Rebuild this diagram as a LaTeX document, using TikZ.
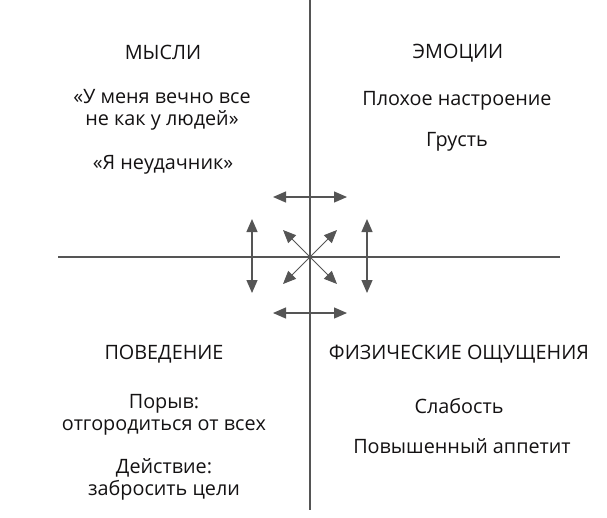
\documentclass[tikz,border=0pt]{standalone}
\usepackage{fontspec}
\setmainfont{Open Sans}
\usetikzlibrary{positioning,arrows.meta}
\definecolor{axisgray}{HTML}{555555}
\definecolor{textgray}{HTML}{141213}

\tikzset{
  quad/.style={align=center,text=textgray,font=\fontsize{19.8}{22}\selectfont,inner sep=0pt},
  twoway/.style={axisgray,line width=1.3pt,{Triangle[length=13pt,width=11pt]}-{Triangle[length=13pt,width=11pt]}},
  oneway/.style={axisgray,line width=1pt,-{Triangle[length=13pt,width=11pt]}}
}

\begin{document}
\begin{tikzpicture}[x=1pt,y=-1pt]
  \useasboundingbox (0,0) rectangle (607,517);

  % axes
  \coordinate (top) at (310,0);
  \coordinate (bottom) at (310,510);
  \coordinate (left) at (58,257);
  \coordinate (right) at (560,257);
  \coordinate (c) at (310,257);
  \draw[axisgray,line width=1.1pt] (top) -- (bottom);
  \draw[axisgray,line width=1.1pt] (left) -- (right);

  % thoughts
  \node[quad] (thoughts) at (163,52) {МЫСЛИ};
  \node[quad] (t1) at (162,110) {«У меня вечно все\\не как у людей»};
  \node[quad] (t2) at (163,165) {«Я неудачник»};

  % emotions
  \node[quad] (emotions) at (458,53) {ЭМОЦИИ};
  \node[quad] (e1) at (457,101) {Плохое настроение};
  \node[quad] (e2) at (457,142) {Грусть};

  % behaviour
  \node[quad] (behaviour) at (164,354) {ПОВЕДЕНИЕ};
  \node[quad] (b1) at (164,415) {Порыв:\\отгородиться от всех};
  \node[quad] (b2) at (164,479) {Действие:\\забросить цели};

  % body
  \node[quad] (body) at (459,354) {ФИЗИЧЕСКИЕ ОЩУЩЕНИЯ};
  \node[quad] (s1) at (459,406) {Слабость};
  \node[quad] (s2) at (462,446) {Повышенный аппетит};

  % arrows round the centre
  \coordinate (ta) at (273,197); \coordinate (tb) at (347,197);
  \coordinate (ba) at (273,313); \coordinate (bb) at (347,313);
  \coordinate (la) at (252,219); \coordinate (lb) at (252,293);
  \coordinate (ra) at (367,219); \coordinate (rb) at (367,293);
  \draw[twoway] (ta) -- (tb);
  \draw[twoway] (ba) -- (bb);
  \draw[twoway] (la) -- (lb);
  \draw[twoway] (ra) -- (rb);
  \foreach \p in {(283,230),(337,230),(283,284),(337,284)}
    \draw[oneway] (c) -- \p;
\end{tikzpicture}
\end{document}
